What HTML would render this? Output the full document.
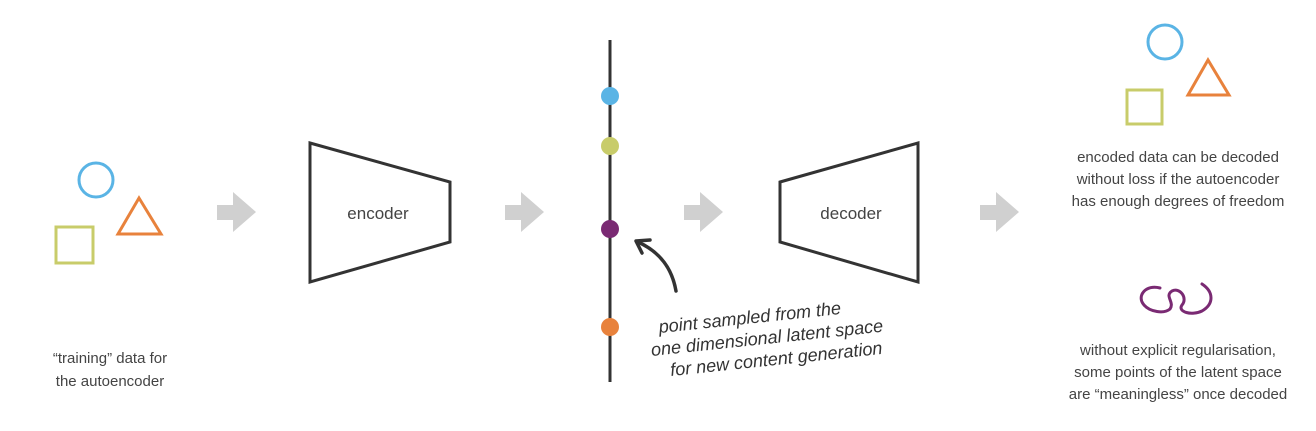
<!DOCTYPE html>
<html><head><meta charset="utf-8"><style>
body{margin:0;background:#fff;width:1316px;height:426px;overflow:hidden}
svg text{font-family:"Liberation Sans",sans-serif;fill:#444;font-size:15px}
</style></head><body>
<svg width="1316" height="426" viewBox="0 0 1316 426">
<g fill="none" stroke-width="3">
<circle cx="96" cy="180" r="17" stroke="#5ab4e5"/>
<polygon points="118,234 161,234 139,198" stroke="#e8823c" stroke-linejoin="miter"/>
<rect x="56" y="227" width="37" height="36" stroke="#c8cc6a"/>
<circle cx="1165" cy="42" r="17" stroke="#5ab4e5"/>
<polygon points="1188,95 1229,95 1208,60" stroke="#e8823c"/>
<rect x="1127" y="90" width="35" height="34" stroke="#c8cc6a"/>
</g>
<text x="110" y="363" text-anchor="middle">“training” data for</text>
<text x="110" y="386" text-anchor="middle">the autoencoder</text>
<g fill="#d0d0d0">
<polygon points="217,205 233,205 233,192 256,212 233,232 233,220 217,220"/>
<polygon points="505,205 521,205 521,192 544,212 521,232 521,220 505,220"/>
<polygon points="684,205 700,205 700,192 723,212 700,232 700,220 684,220"/>
<polygon points="980,205 996,205 996,192 1019,212 996,232 996,220 980,220"/>
</g>
<polygon points="310,143 450,182 450,242 310,282" fill="none" stroke="#333" stroke-width="3"/>
<text x="378" y="219" text-anchor="middle" style="font-size:17px">encoder</text>
<polygon points="780,182 918,143 918,282 780,242" fill="none" stroke="#333" stroke-width="3"/>
<text x="851" y="219" text-anchor="middle" style="font-size:17px">decoder</text>
<line x1="610" y1="40" x2="610" y2="382" stroke="#333" stroke-width="3"/>
<circle cx="610" cy="96" r="9" fill="#5ab4e5"/>
<circle cx="610" cy="146" r="9" fill="#c8cc6a"/>
<circle cx="610" cy="229" r="9" fill="#7a2a73"/>
<circle cx="610" cy="327" r="9" fill="#e8823c"/>
<path d="M676,291 C672,268 660,252 638,242" fill="none" stroke="#333" stroke-width="3.5" stroke-linecap="round"/>
<path d="M650,240 L636,241 L642,253" fill="none" stroke="#333" stroke-width="3.5" stroke-linecap="round" stroke-linejoin="round"/>
<g transform="rotate(-6 765 338)" style="font-style:italic">
<text x="752" y="322" text-anchor="middle" style="font-size:18px;fill:#333">point sampled from the</text>
<text x="767" y="344" text-anchor="middle" style="font-size:18px;fill:#333">one dimensional latent space</text>
<text x="774" y="366" text-anchor="middle" style="font-size:18px;fill:#333">for new content generation</text>
</g>
<text x="1178" y="162" text-anchor="middle">encoded data can be decoded</text>
<text x="1178" y="184" text-anchor="middle">without loss if the autoencoder</text>
<text x="1178" y="206" text-anchor="middle">has enough degrees of freedom</text>
<path d="M1160,288 C1146,284 1136,296 1144,305 C1150,312 1164,314 1170,309 C1175,302 1164,296 1172,291 C1180,287 1188,298 1182,305 C1177,312 1192,316 1202,311 C1214,304 1214,292 1202,284" fill="none" stroke="#7a2a73" stroke-width="3" stroke-linecap="round"/>
<text x="1178" y="355" text-anchor="middle">without explicit regularisation,</text>
<text x="1178" y="377" text-anchor="middle">some points of the latent space</text>
<text x="1178" y="399" text-anchor="middle">are “meaningless” once decoded</text>
</svg>
</body></html>
